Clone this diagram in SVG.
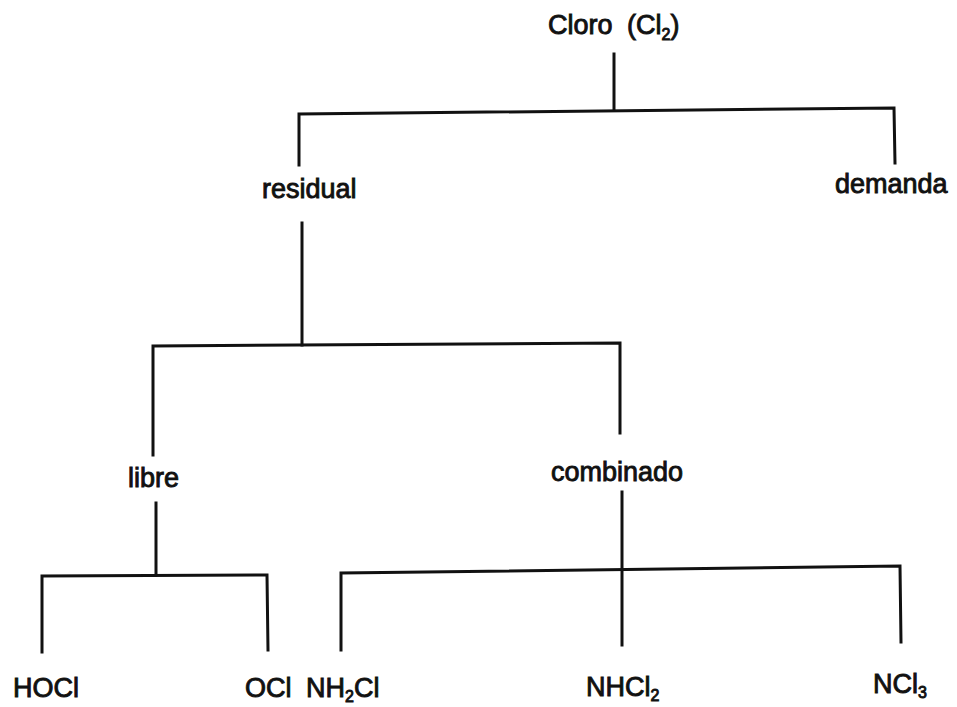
<svg xmlns="http://www.w3.org/2000/svg" width="957" height="707" viewBox="0 0 957 707">
<style>
text{font-family:"Liberation Sans",Arial,sans-serif;font-size:27px;fill:#111;stroke:#111;stroke-width:0.9}
.sub{font-size:16px}
#connectors path{fill:none;stroke:#111;stroke-width:3;stroke-linecap:square;stroke-linejoin:miter}
</style>
<rect width="957" height="707" fill="#fff"/>
<g id="connectors">
<path d="M614,54 L614,110"/>
<path d="M299,165 L299,114 L894,108 L895,163"/>
<path d="M302,223 L302,345"/>
<path d="M153,455 L153,346 L620,343 L620,433"/>
<path d="M156,503 L156,575"/>
<path d="M42,652 L42,576 L267,575 L268,650"/>
<path d="M622,492 L622,645"/>
<path d="M341,650 L341,573 L900,566 L901,642"/>
</g>
<g id="cloro"><text x="548" y="34">Cloro<tspan x="627">(Cl</tspan><tspan class="sub" dy="6">2</tspan><tspan dy="-6">)</tspan></text></g>
<g id="residual"><text x="262" y="198">residual</text></g>
<g id="demanda"><text x="835" y="193">demanda</text></g>
<g id="libre"><text x="128" y="487">libre</text></g>
<g id="combinado"><text x="551" y="481">combinado</text></g>
<g id="hocl"><text x="13" y="697">HOCl</text></g>
<g id="ocl"><text x="245" y="697">OCl</text></g>
<g id="nh2cl"><text x="306" y="697">NH<tspan class="sub" dy="5">2</tspan><tspan dy="-5">Cl</tspan></text></g>
<g id="nhcl2"><text x="586" y="696">NHCl<tspan class="sub" dy="5">2</tspan></text></g>
<g id="ncl3"><text x="873" y="693">NCl<tspan class="sub" dy="5">3</tspan></text></g>
</svg>
